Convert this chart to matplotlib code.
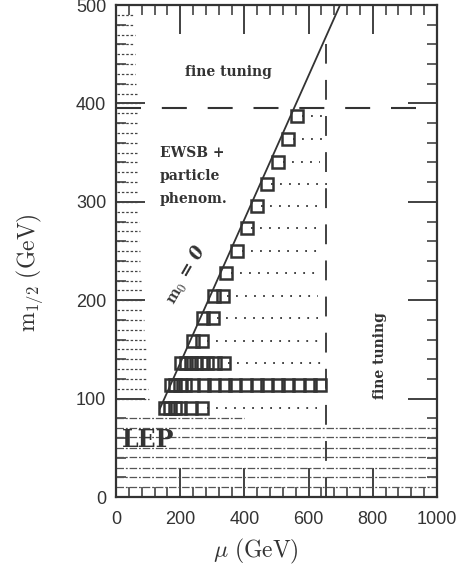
import matplotlib.pyplot as plt
from matplotlib.ticker import MultipleLocator

plt.rcParams['mathtext.fontset'] = 'cm'

ink = '#333333'

# scan points: one row per m_1/2 value, mu values of the squares in that row
rows_y = [387, 364, 340, 318, 296, 273, 250, 228, 204, 182, 159, 136, 114, 90]
rows_x = [
    [564], [536], [505], [470], [439], [408], [377], [343],
    [305, 333], [271, 302], [240, 268],
    [202, 218, 234, 249, 265, 283, 308, 336],
    [170, 185, 200, 215, 240, 273, 306, 339, 372, 405, 438, 471, 504, 537, 570, 603, 636],
    [153, 168, 184, 199, 234, 268],
]
dot_end = [657, 657, 635, 657, 641, 641, 630, 635, 630, 630, 630, 643, 0, 626]

# m0 = 0 line
m0_x = [137, 698]
m0_y = [90, 500]

# fine tuning limits
ft_y = 395
ft_x = 655
ft_x_top = 460

# LEP bound hatching
lep_y = [80, 70, 61, 50, 41, 29, 20, 10]
lep_end = [400, 1000, 1000, 1000, 1000, 1000, 1000, 1000]

# hatching along the left edge (small mu)
left_y = [490, 480, 470, 460, 450, 440, 430, 420, 410, 400, 390, 380, 370, 360,
          350, 340, 330, 320, 310, 300, 290, 280, 270, 260, 250, 240, 230, 220,
          210, 200, 190, 180, 170, 160, 150, 140, 130, 120, 110, 100]
left_len = [55, 55, 58, 56, 58, 60, 60, 62, 64, 74, 68, 66, 68, 68,
            70, 68, 68, 70, 70, 70, 70, 72, 74, 72, 74, 76, 76, 78,
            80, 82, 84, 86, 88, 90, 92, 94, 96, 98, 100, 102]

fig = plt.figure(figsize=(4.70, 5.73), dpi=100)
ax = fig.add_axes([0.2468, 0.1326, 0.683, 0.8586])

for y, ln in zip(left_y, left_len):
    ax.plot([2, ln], [y, y], ls=(0, (2, 1.5)), lw=0.9, color='#444444')

for y, xe in zip(lep_y, lep_end):
    ax.plot([0, xe], [y, y], ls=(0, (6, 1.5, 1.5, 1.5)), lw=0.9, color='#555555')

ax.plot(m0_x, m0_y, color=ink, lw=1.3)

for y, xs, xe in zip(rows_y, rows_x, dot_end):
    ax.plot(xs, [y] * len(xs), ls='none', marker='s', ms=8.5, mfc='none',
            mec=ink, mew=1.8)
    if xe:
        ax.plot([max(xs) + 14, xe], [y, y], ls=(0, (1, 4)), lw=1.3, color=ink)

ax.plot([0, 1000], [ft_y, ft_y], ls=(0, (12, 10)), lw=1.5, color=ink)
ax.plot([ft_x, ft_x], [0, ft_x_top], ls=(0, (11, 9)), lw=1.3, color=ink)

serif = 'DejaVu Serif'
ax.text(349, 432, 'fine tuning', fontsize=10, fontweight='bold', family=serif,
        color=ink, ha='center', va='center')
ax.text(137, 350, 'EWSB +', fontsize=10, fontweight='bold', family=serif,
        color=ink, ha='left', va='center')
ax.text(137, 326, 'particle', fontsize=10, fontweight='bold', family=serif,
        color=ink, ha='left', va='center')
ax.text(137, 303, 'phenom.', fontsize=10, fontweight='bold', family=serif,
        color=ink, ha='left', va='center')
ax.text(218, 226, r'$\mathbf{m_0}$ = 0', fontsize=13, style='italic',
        fontweight='bold', family=serif,
        color=ink, ha='center', va='center', rotation=60)
ax.text(822, 144, 'fine tuning', fontsize=10, fontweight='bold', family=serif,
        color=ink, ha='center', va='center', rotation=90)
ax.text(100, 58, 'LEP', fontsize=17, fontweight='bold', family=serif,
        color=ink, ha='center', va='center')

ax.set_xlim(0, 1000)
ax.set_ylim(0, 500)
ax.xaxis.set_major_locator(MultipleLocator(200))
ax.xaxis.set_minor_locator(MultipleLocator(40))
ax.yaxis.set_major_locator(MultipleLocator(100))
ax.yaxis.set_minor_locator(MultipleLocator(20))
ax.tick_params(which='both', direction='in', top=True, right=True,
               color=ink, labelcolor=ink, labelsize=13)
ax.tick_params(which='major', length=21, width=1.3)
ax.tick_params(which='minor', length=7, width=1.1)
ax.tick_params(axis='x', pad=10)
ax.tick_params(axis='y', pad=7)
for lab in ax.get_xticklabels() + ax.get_yticklabels():
    lab.set_family('Liberation Sans')
for sp in ax.spines.values():
    sp.set_linewidth(1.6)
    sp.set_color(ink)

ax.set_xlabel(r'$\mu\ \mathrm{(GeV)}$', fontsize=17, color=ink)
ax.set_ylabel(r'$\mathrm{m}_{1/2}\ \mathrm{(GeV)}$', fontsize=17, color=ink)
ax.xaxis.set_label_coords(0.436, -0.081)
ax.yaxis.set_label_coords(-0.22, 0.457)

fig.savefig('out.png', dpi=100)
